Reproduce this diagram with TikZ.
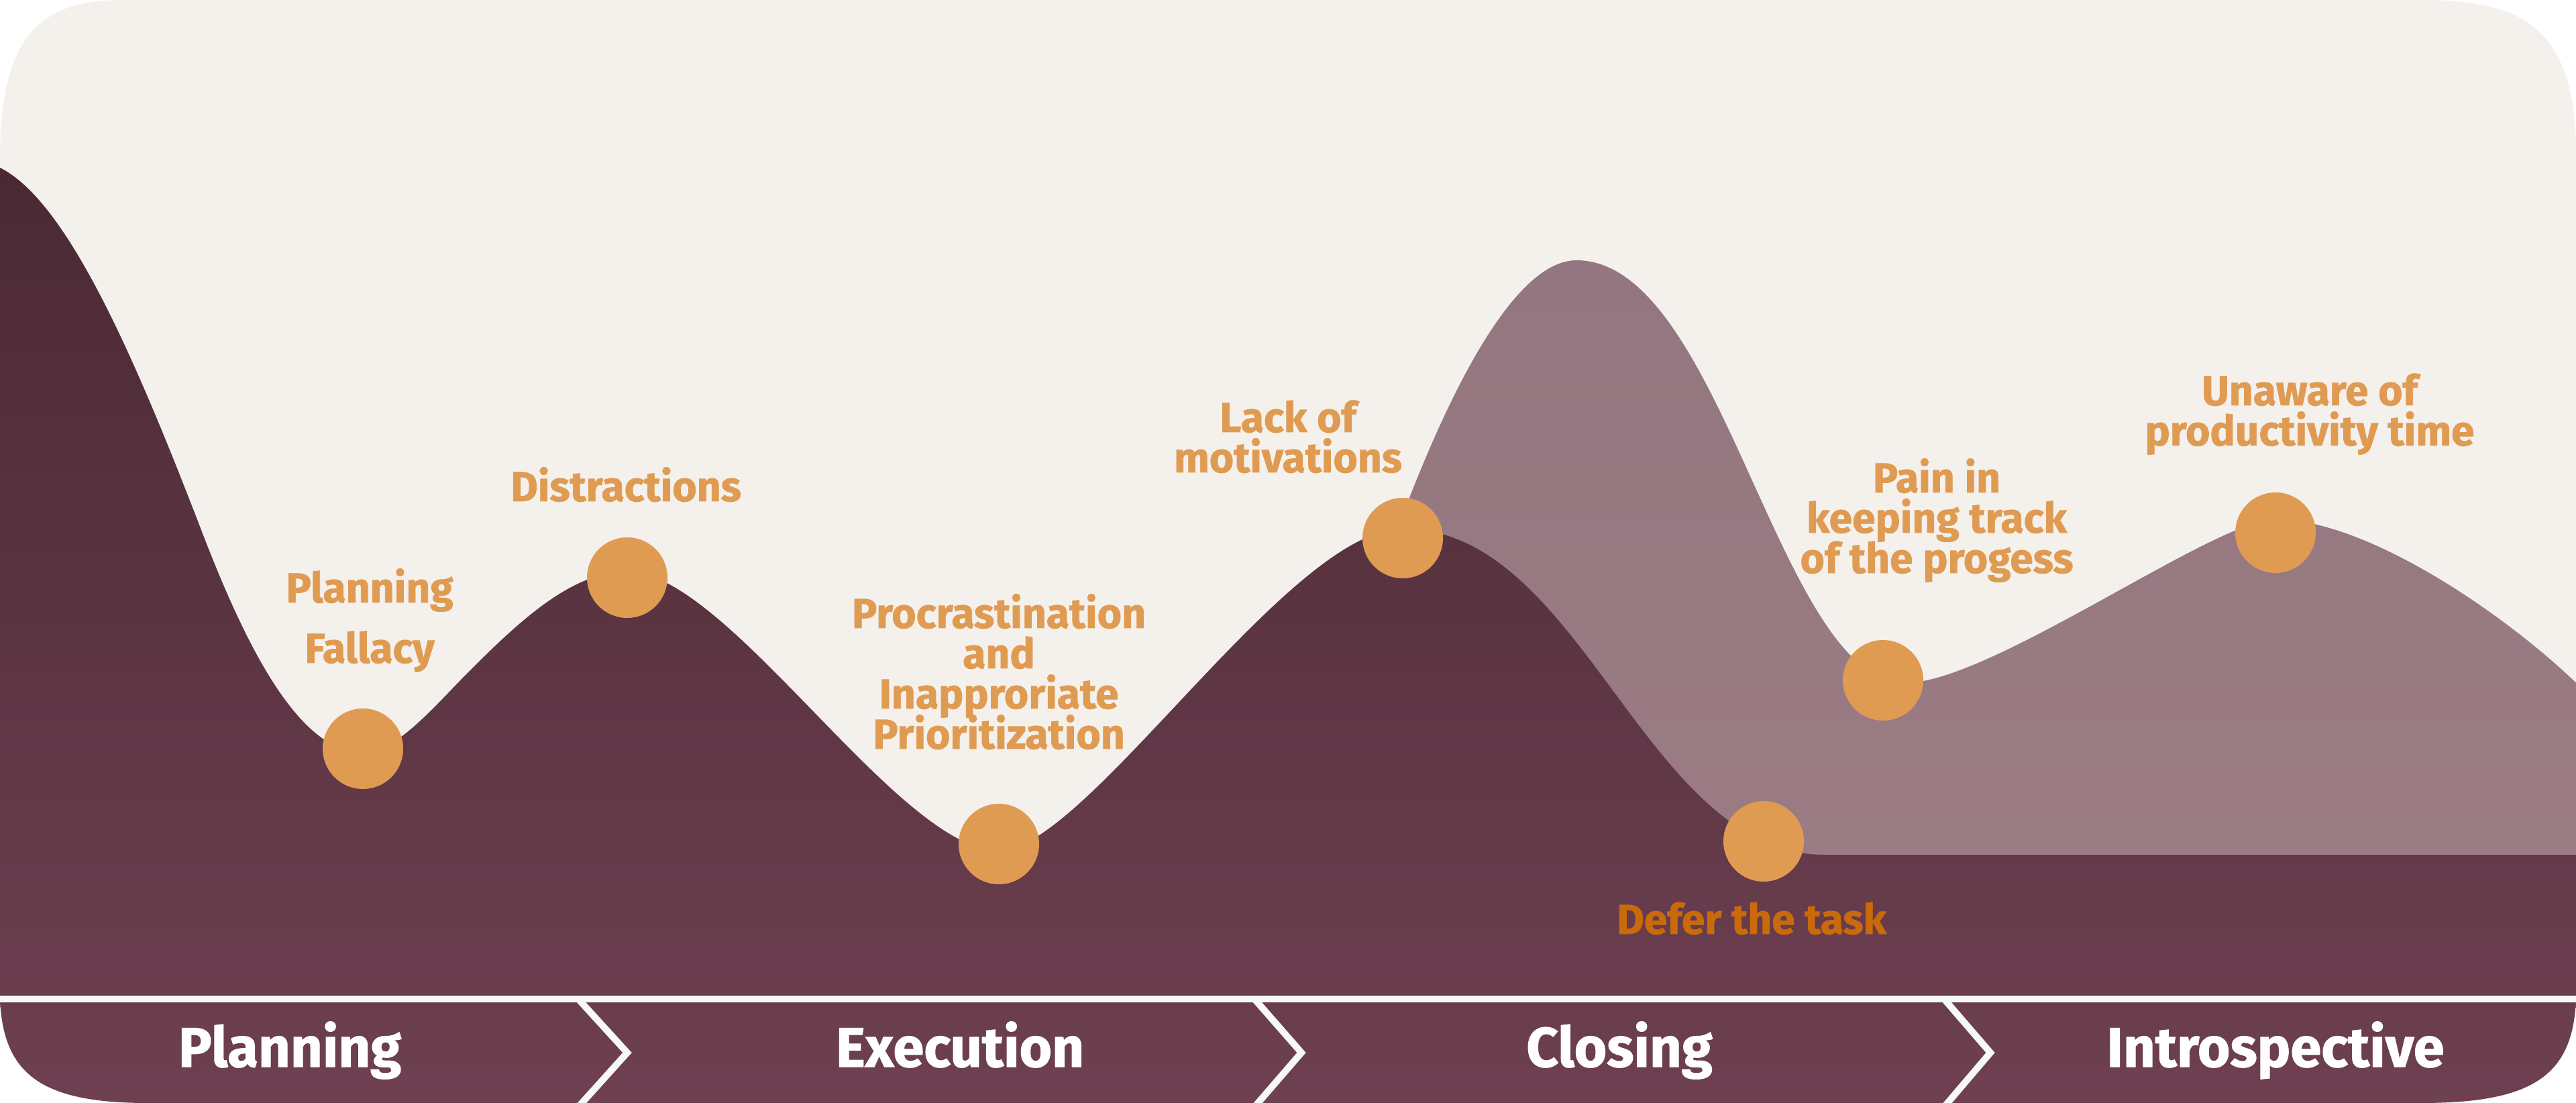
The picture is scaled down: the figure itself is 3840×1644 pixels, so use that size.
\documentclass[tikz,border=0pt]{standalone}
\usepackage{fontspec}
\setmainfont{Fira Sans}[BoldFeatures={FakeBold=1.2}]
\definecolor{bg}{HTML}{F4F1EC}
\definecolor{darkTop}{HTML}{4A2934}
\definecolor{darkBot}{HTML}{6E4051}
\definecolor{mauveTop}{HTML}{93767F}
\definecolor{mauveBot}{HTML}{9B7C85}
\definecolor{dot}{HTML}{E09B53}
\definecolor{defer}{HTML}{C96A0B}
\definecolor{sep}{HTML}{F7F8F9}
\newcommand{\mlines}[2][15pt]{\vtop{\baselineskip=#1\lineskiplimit=-50pt\halign{\hfil##\hfil\cr#2\crcr}}}
\begin{document}
\begin{tikzpicture}[x=0.25pt,y=-0.25pt,
  dotnode/.style={circle, fill=dot, minimum size=30pt, inner sep=0pt},
  lbl/.style={anchor=base, inner sep=0pt, text=dot, font=\bfseries\fontsize{15.6}{15}\selectfont},
  phase/.style={anchor=base, inner sep=0pt, text=white, font=\bfseries\fontsize{20.8}{20}\selectfont},
  sepline/.style={draw=sep, line width=2.5pt, line join=miter}]
\useasboundingbox (0,0) rectangle (3840,1644);
\fill[bg] (0,240) .. controls (0,80) and (40,0) .. (180,0) -- (3610,0) .. controls (3760,0) and (3840,40) .. (3840,230) -- (3840,1490) .. controls (3835,1600) and (3780,1644) .. (3610,1644) -- (220,1644) .. controls (60,1644) and (5,1600) .. (0,1490) -- cycle;
\begin{scope}
\clip (0,240) .. controls (0,80) and (40,0) .. (180,0) -- (3610,0) .. controls (3760,0) and (3840,40) .. (3840,230) -- (3840,1490) .. controls (3835,1600) and (3780,1644) .. (3610,1644) -- (220,1644) .. controls (60,1644) and (5,1600) .. (0,1490) -- cycle;
% light hills
\shade[top color=mauveTop, bottom color=mauveBot]
  (2090,770) .. controls (2130,666) and (2240,388) .. (2350,388)
  .. controls (2568,388) and (2651,1018) .. (2840,1018)
  .. controls (2967,1018) and (3302,774) .. (3392,774)
  .. controls (3550,774) and (3800,964) .. (3880,1060)
  -- (3880,1300) -- (2090,1300) -- cycle;
% dark hills
\shade[top color=darkTop, bottom color=darkBot]
  (0,250) .. controls (100,300) and (200,530) .. (300,790)
  .. controls (360,946) and (441,1122) .. (541,1122)
  .. controls (591,1122) and (650,1050) .. (700,1000)
  .. controls (780,920) and (855,852) .. (935,852)
  .. controls (1085,852) and (1339,1268) .. (1489,1268)
  .. controls (1619,1268) and (1921,788) .. (2091,788)
  .. controls (2360,788) and (2451,1274) .. (2720,1274)
  -- (3850,1274) -- (3850,1650) -- (0,1650) -- cycle;
\draw[sepline] (-10,1489) -- (3850,1489);
\draw[sepline] (862,1489) -- (935,1569) -- (862,1650);
\draw[sepline] (1870,1489) -- (1940,1569) -- (1870,1650);
\draw[sepline] (2898,1489) -- (2967,1569) -- (2898,1650);
\end{scope}
\node[dotnode] (c1) at (541,1116) {};
\node[dotnode] (c2) at (935,861) {};
\node[dotnode] (c3) at (1489,1258) {};
\node[dotnode] (c4) at (2091,802) {};
\node[dotnode] (c5) at (2629,1254) {};
\node[dotnode] (c6) at (2807,1014) {};
\node[dotnode] (c7) at (3392,794) {};
\node[lbl] (t1) at (551,898) {\mlines[22.5pt]{Planning\cr Fallacy}};
\node[lbl] (t2) at (933,747) {Distractions};
\node[lbl] (t3) at (1489,936) {\mlines{Procrastination\cr and\cr Inapproriate\cr Prioritization}};
\node[lbl] (t4) at (1920,644) {\mlines{Lack of\cr motivations}};
\node[lbl] (t5) at (2887,734) {\mlines{Pain in\cr keeping track\cr of the progess}};
\node[lbl] (t6) at (3443,604) {\mlines{Unaware of\cr productivity time}};
\node[lbl, text=defer] (t7) at (2611,1392) {Defer the task};
\node[phase] (p1) at (432,1590) {Planning};
\node[phase] (p2) at (1431,1590) {Execution};
\node[phase] (p3) at (2414,1590) {Closing};
\node[phase] (p4) at (3392,1590) {Introspective};
\end{tikzpicture}
\end{document}
